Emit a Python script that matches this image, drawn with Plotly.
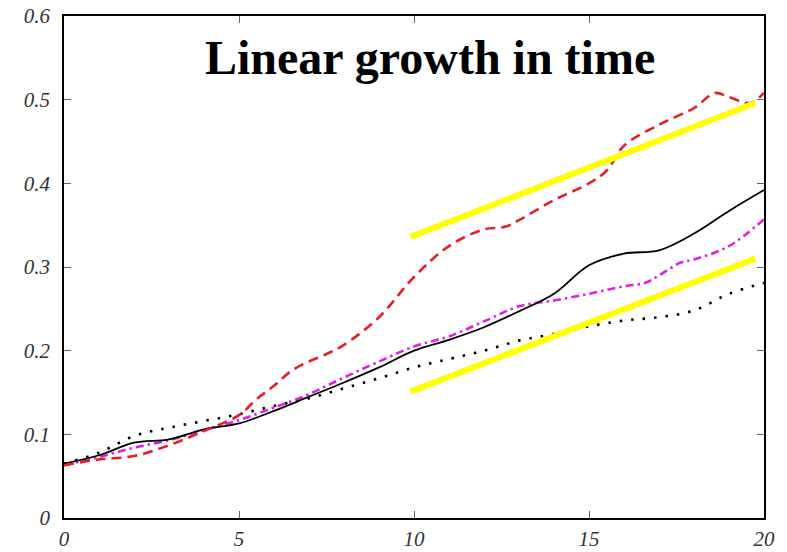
import plotly.graph_objects as go

t = list(range(21))
solid = [0.065, 0.075, 0.090, 0.094, 0.106, 0.113, 0.128, 0.145, 0.162, 0.180, 0.200,
         0.213, 0.228, 0.247, 0.268, 0.302, 0.316, 0.320, 0.340, 0.367, 0.392]
red_t = [0, 1, 2, 3, 4, 5, 5.5, 6, 6.5, 7, 7.5, 8, 9, 10, 11, 12, 12.6, 13, 14, 15, 15.5, 16, 17, 18, 18.6, 19, 19.6, 20]
red = [0.063, 0.070, 0.074, 0.087, 0.104, 0.123, 0.142, 0.158, 0.176, 0.187, 0.196, 0.207, 0.240, 0.288,
       0.325, 0.345, 0.348, 0.356, 0.380, 0.400, 0.415, 0.445, 0.470, 0.490, 0.508, 0.503, 0.496, 0.508]
magenta_t = [0, 1, 2, 3, 4, 5, 6, 7, 8, 9, 10, 11, 12, 13, 14, 15, 16, 16.6, 17, 17.6, 18, 19, 20]
magenta = [0.063, 0.073, 0.084, 0.093, 0.105, 0.117, 0.132, 0.148, 0.168, 0.187, 0.205,
           0.217, 0.235, 0.253, 0.260, 0.268, 0.277, 0.281, 0.290, 0.305, 0.309, 0.325, 0.357]
dotted = [0.065, 0.078, 0.098, 0.108, 0.116, 0.124, 0.134, 0.143, 0.155, 0.167, 0.180,
          0.190, 0.200, 0.212, 0.220, 0.229, 0.236, 0.240, 0.248, 0.268, 0.281]
upper_fit_t = [9.9, 19.75]
upper_fit = [0.336, 0.496]
lower_fit_t = [9.9, 19.75]
lower_fit = [0.151, 0.310]

x_ticks = [0, 5, 10, 15, 20]
y_ticks = [0, 0.1, 0.2, 0.3, 0.4, 0.5, 0.6]
y_labels = ["0", "0.1", "0.2", "0.3", "0.4", "0.5", "0.6"]
title_text = "Linear growth in time"

fig = go.Figure()
fig.add_trace(go.Scatter(x=t, y=dotted, mode="lines",
                         line=dict(color="black", width=2.6, dash="2.5px,9px", shape="spline")))
fig.add_trace(go.Scatter(x=magenta_t, y=magenta, mode="lines",
                         line=dict(color="#E020E0", width=2.6, dash="8px,4px,2.5px,4px", shape="spline")))
fig.add_trace(go.Scatter(x=t, y=solid, mode="lines",
                         line=dict(color="black", width=1.8, shape="spline")))
fig.add_trace(go.Scatter(x=red_t, y=red, mode="lines",
                         line=dict(color="#E3202A", width=2.6, dash="10px,6px", shape="spline")))
fig.add_trace(go.Scatter(x=upper_fit_t, y=upper_fit, mode="lines",
                         line=dict(color="#FFFF00", width=6)))
fig.add_trace(go.Scatter(x=lower_fit_t, y=lower_fit, mode="lines",
                         line=dict(color="#FFFF00", width=6)))

fig.add_annotation(x=10.46, y=0.550, xref="x", yref="y", text=title_text, showarrow=False,
                   font=dict(family="Liberation Serif", size=48, color="black", weight="bold"),
                   xanchor="center", yanchor="middle")

tickfont = dict(family="Liberation Serif", size=21, color="#333333", style="italic")
fig.update_xaxes(range=[0, 20], tickvals=x_ticks, ticktext=[str(v) for v in x_ticks],
                 ticks="inside", ticklen=7, tickcolor="#666666", tickwidth=1,
                 showline=True, linecolor="black", linewidth=1.5, mirror="ticks",
                 showgrid=False, zeroline=False, tickfont=tickfont, ticklabelstandoff=1,
                 automargin=False)
fig.update_yaxes(range=[0, 0.6], tickvals=y_ticks, ticktext=y_labels,
                 ticks="inside", ticklen=7, tickcolor="#666666", tickwidth=1,
                 showline=True, linecolor="black", linewidth=1.5, mirror="ticks",
                 showgrid=False, zeroline=False, tickfont=tickfont, ticklabelstandoff=8,
                 automargin=False)
fig.update_layout(width=787, height=552, showlegend=False,
                  margin=dict(l=64, r=23, t=16, b=34),
                  plot_bgcolor="white", paper_bgcolor="white")
fig.write_html("out.html")
